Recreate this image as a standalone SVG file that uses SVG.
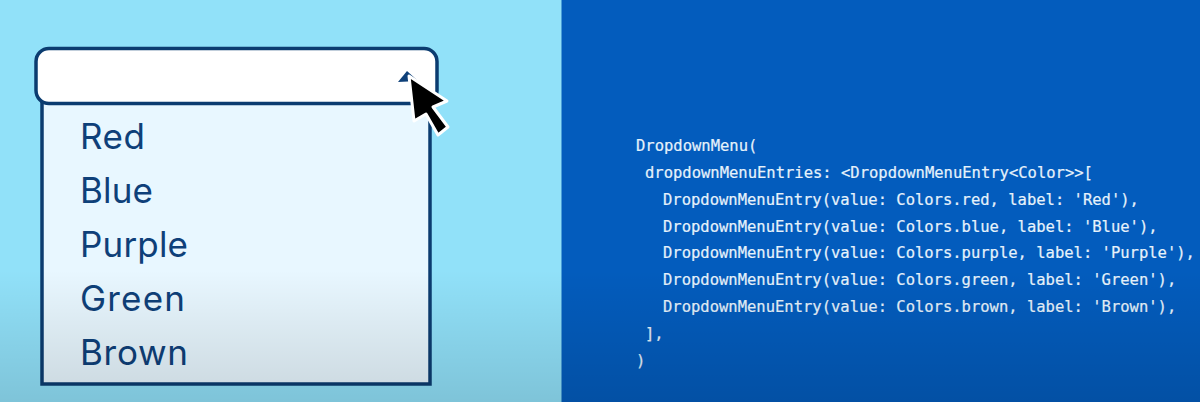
<svg xmlns="http://www.w3.org/2000/svg" width="1200" height="402" viewBox="0 0 1200 402">
<defs>
<linearGradient id="fade" x1="0" y1="0" x2="0" y2="1">
<stop offset="0" stop-color="#000" stop-opacity="0"/>
<stop offset="1" stop-color="#000" stop-opacity="0.13"/>
</linearGradient>
</defs>
<style>
.item{font-family:"Inter","Open Sans",sans-serif;font-size:35px;fill:#0e4079;}
.code{font-family:"DejaVu Sans Mono","Liberation Mono",monospace;font-size:15.5px;fill:#e6f2fb;stroke:#e6f2fb;stroke-width:0.2px;}
</style>
<rect id="left-panel" x="0" y="0" width="562" height="402" fill="#91e1f9"/>
<rect id="right-panel" x="562" y="0" width="638" height="402" fill="#035cbd"/>
<rect id="panel-edge" x="561" y="0" width="1" height="402" fill="#4a9ed8"/>
<g id="dropdown-list">
<rect x="42" y="90" width="388" height="294" fill="#e8f7ff" stroke="#0b3c70" stroke-width="3.5"/>
<text class="item" x="80" y="149" textLength="65">Red</text>
<text class="item" x="80" y="203" textLength="73">Blue</text>
<text class="item" x="80" y="257" textLength="108">Purple</text>
<text class="item" x="80" y="311" textLength="105">Green</text>
<text class="item" x="80" y="365" textLength="108">Brown</text>
</g>
<g id="dropdown-field">
<rect x="36" y="48.500" width="401" height="55" rx="13" fill="#ffffff" stroke="#0b3c70" stroke-width="3.500"/>
<path d="M398 82 L407 71 L418 81 Z" fill="#0e4079"/>
</g>
<g id="cursor">
<path d="M409 76 L447 101 L433 107 L448 127 L438 135 L426 114 L414 121 Z" fill="#000" stroke="#fff" stroke-width="3" stroke-linejoin="round"/>
</g>
<g id="code">
<text class="code" x="636" y="151">DropdownMenu(</text>
<text class="code" x="645" y="178">dropdownMenuEntries: &lt;DropdownMenuEntry&lt;Color&gt;&gt;[</text>
<text class="code" x="663" y="205">DropdownMenuEntry(value: Colors.red, label: 'Red'),</text>
<text class="code" x="663" y="232">DropdownMenuEntry(value: Colors.blue, label: 'Blue'),</text>
<text class="code" x="663" y="258">DropdownMenuEntry(value: Colors.purple, label: 'Purple'),</text>
<text class="code" x="663" y="285">DropdownMenuEntry(value: Colors.green, label: 'Green'),</text>
<text class="code" x="663" y="312">DropdownMenuEntry(value: Colors.brown, label: 'Brown'),</text>
<text class="code" x="645" y="339">],</text>
<text class="code" x="636" y="366">)</text>
</g>
<rect id="bottom-fade" x="0" y="270" width="1200" height="132" fill="url(#fade)"/>
</svg>
